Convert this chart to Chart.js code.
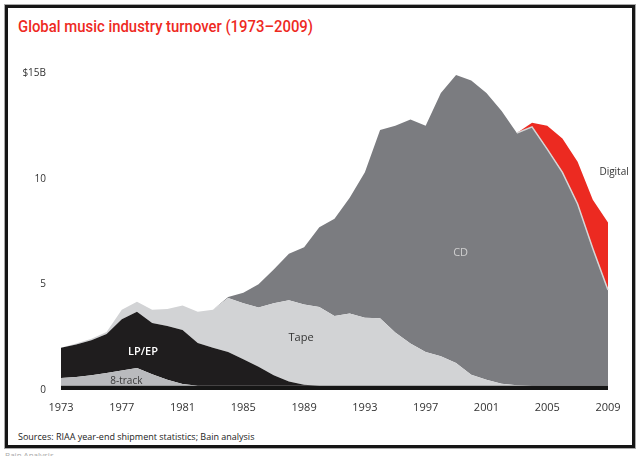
<!DOCTYPE html>
<html>
<head>
<meta charset="utf-8">
<script src="https://cdn.jsdelivr.net/npm/chart.js@4"></script>
<style>
  html,body{margin:0;padding:0;background:#fff;}
  body{width:640px;height:456px;position:relative;overflow:hidden;font-family:"Open Sans","DejaVu Sans",sans-serif;}
  #frame{position:absolute;left:5px;top:5px;width:624px;height:437px;border:3px solid #161616;box-shadow:0 0 0 1px #aaa;}
  #title{position:absolute;left:18px;top:16px;color:#ee2a1f;font-family:Roboto,"Open Sans",sans-serif;font-weight:500;font-size:17px;white-space:nowrap;transform-origin:0 0;}
  #src{position:absolute;left:18px;top:430px;color:#222;font-size:9px;white-space:nowrap;}
  #bain{position:absolute;left:5px;top:449px;color:#aaa;font-size:8px;white-space:nowrap;}
  #wrap{position:absolute;left:0;top:0;width:640px;height:456px;}
</style>
</head>
<body>
<div id="frame"></div>
<div id="title">Global music industry turnover (1973–2009)</div>
<div id="src">Sources: RIAA year-end shipment statistics; Bain analysis</div>
<div id="bain">Bain Analysis</div>
<div id="wrap"><canvas id="c" width="640" height="456"></canvas></div>
<script>
const years = ['1973','1974','1975','1976','1977','1978','1979','1980','1981','1982','1983','1984','1985','1986','1987','1988','1989','1990','1991','1992','1993','1994','1995','1996','1997','1998','1999','2000','2001','2002','2003','2004','2005','2006','2007','2008','2009'];
const other =      [0.2,0.2,0.2,0.2,0.2,0.2,0.2,0.2,0.2,0.2,0.2,0.2,0.2,0.2,0.2,0.2,0.2,0.2,0.2,0.2,0.2,0.2,0.2,0.2,0.2,0.2,0.2,0.2,0.2,0.2,0.2,0.2,0.2,0.2,0.2,0.2,0.2];
const eightTrack = [0.37,0.42,0.50,0.60,0.72,0.84,0.55,0.28,0.08,0,0,0,0,0,0,0,0,0,0,0,0,0,0,0,0,0,0,0,0,0,0,0,0,0,0,0,0];
const lpEp =       [1.43,1.53,1.65,1.85,2.43,2.66,2.42,2.55,2.56,2.02,1.8,1.6,1.25,0.9,0.5,0.2,0.05,0,0,0,0,0,0,0,0,0,0,0,0,0,0,0,0,0,0,0,0];
const tape =       [0,0.05,0.07,0.1,0.45,0.47,0.63,0.8,1.16,1.48,1.8,2.55,2.65,2.8,3.4,3.85,3.8,3.73,3.3,3.42,3.22,3.2,2.52,2.0,1.6,1.4,1.08,0.52,0.28,0.1,0.02,0,0,0,0,0,0];
const cd =         [0,0,0,0,0,0,0,0,0,0,0,0.05,0.5,1.1,1.6,2.2,2.7,3.77,4.6,5.48,6.88,8.9,9.78,10.6,10.7,12.45,13.62,13.93,13.57,12.9,11.94,12.25,11.2,10.1,8.6,6.5,4.53];
const digital =    [0,0,0,0,0,0,0,0,0,0,0,0,0,0,0,0,0,0,0,0,0,0,0,0,0,0,0,0,0,0,0,0.2,1.1,1.6,2.0,2.3,3.2];
const yTicks = [0,5,10,15];
const xTickEvery = 4;

const areaLabels = [
  {text:'8-track', x:4.3, y:0.4, color:'#3a3a3a', font:'10px "Open Sans", sans-serif'},
  {text:'LP/EP', x:5.4, y:1.8, color:'#ffffff', font:'600 11px "Open Sans", sans-serif'},
  {text:'Tape', x:15.8, y:2.45, color:'#333333', font:'11px "Open Sans", sans-serif'},
  {text:'CD', x:26.3, y:6.5, color:'#cfcfcf', font:'11px "Open Sans", sans-serif'},
  {text:'Digital', x:36.4, y:10.3, color:'#333333', font:'10px "Open Sans", sans-serif'}
];

// fit title to the reference width
(function(){
  const t = document.getElementById('title');
  const w = t.getBoundingClientRect().width;
  t.style.transform = 'scaleX(' + (295 / w) + ')';
})();

const labelPlugin = {
  id:'areaLabels',
  afterDatasetsDraw(chart){
    const {ctx, scales:{x, y}} = chart;
    ctx.save();
    // light edge between CD and Digital
    const cdMeta = chart.getDatasetMeta(4).data;
    ctx.strokeStyle = '#d6d6d6';
    ctx.lineWidth = 1.5;
    ctx.beginPath();
    for (let i = 30; i < cdMeta.length; i++) {
      const p = cdMeta[i];
      if (i === 30) ctx.moveTo(p.x, p.y); else ctx.lineTo(p.x, p.y);
    }
    ctx.stroke();
    ctx.textAlign='center';
    ctx.textBaseline='middle';
    areaLabels.forEach(l=>{
      ctx.font=l.font;
      ctx.fillStyle=l.color;
      ctx.fillText(l.text, x.getPixelForValue(l.x), y.getPixelForValue(l.y));
    });
    ctx.restore();
  }
};

function ds(label, data, color, fill){
  return {label, data, backgroundColor:color, borderColor:color, borderWidth:0, fill, pointRadius:0, tension:0};
}

new Chart(document.getElementById('c'), {
  type:'line',
  data:{
    labels: years,
    datasets:[
      ds('Other', other, '#161616', 'origin'),
      ds('8-track', eightTrack, '#b9babd', '-1'),
      ds('LP/EP', lpEp, '#1f1d1e', '-1'),
      ds('Tape', tape, '#d2d3d5', '-1'),
      ds('CD', cd, '#7b7c80', '-1'),
      ds('Digital', digital, '#ec2a21', '-1')
    ]
  },
  options:{
    responsive:false,
    animation:false,
    layout:{padding:{left:10, right:32, top:73, bottom:36}},
    plugins:{legend:{display:false}, tooltip:{enabled:false}, title:{display:false}},
    scales:{
      x:{
        offset:false,
        grid:{display:false, drawTicks:false},
        border:{display:false},
        ticks:{autoSkip:false, maxRotation:0, padding:11, color:'#333', font:{size:11, family:'"Open Sans", sans-serif'},
          callback:function(v, i){ return i % xTickEvery === 0 ? years[i] : ''; }},
        afterFit(a){ a.height = 30; }
      },
      y:{
        stacked:true, min:0, max:15,
        afterBuildTicks(a){ a.ticks = yTicks.map(v=>({value:v})); },
        grid:{display:false, drawTicks:false},
        border:{display:false},
        ticks:{padding:15, color:'#333', font:{size:10, family:'"Open Sans", sans-serif'},
          callback:v => v===15 ? '$15B' : String(v)},
        afterFit(a){ a.width = 51; }
      }
    }
  },
  plugins:[labelPlugin]
});
</script>
</body>
</html>
